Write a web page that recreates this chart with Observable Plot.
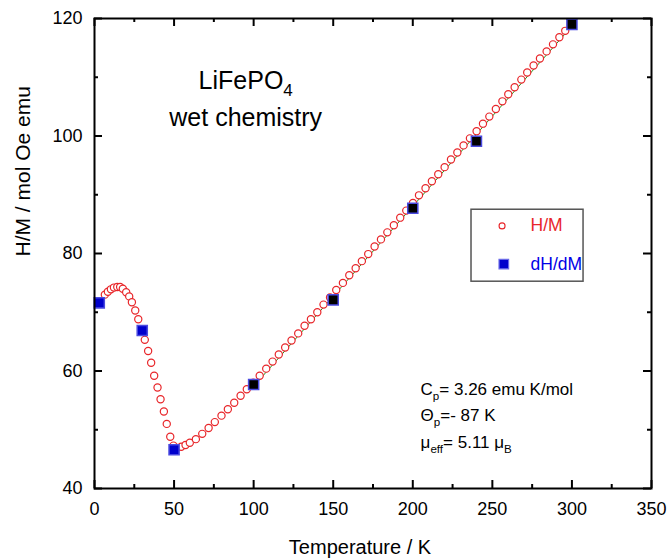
<!DOCTYPE html>
<html><head><meta charset="utf-8">
<script src="https://cdn.jsdelivr.net/npm/d3@7"></script>
<script src="https://cdn.jsdelivr.net/npm/@observablehq/plot@0.6"></script>
<style>html,body{margin:0;padding:0;background:#fff;} #chart{width:670px;height:558px;}</style>
</head><body><div id="chart"></div>
<script>
// H/M data (open red circles)
const hmT = [6.5,8.4,10.3,12.2,14.3,16.1,17.8,19.9,21.8,23.5,25.6,27.5,29.5,31.6,33.7,35.6,37.5,39.6,41.5,43.6,45.4,47.6,49.6,51.6,54.5,57.2,59.9,63.7,67.7,71.7,75.6,79.8,83.8,87.8,91.8,95.7,99.8,103.8,107.9,111.9,115.8,119.8,123.8,128,132,136,140,143.9,148,151.9,156.1,160.1,164.1,168,172,176,180,184,188.1,192.1,195.9,200.1,203.9,208,212,216,220,224,228,231.9,235.9,240.1,244.1,248.1,252.2,256.3,260,264,268.2,271.9,275.9,279.9,284.1,288.1,292.1,295.8,300];
const hmV = [73.0,73.5,73.9,74.2,74.3,74.3,74.0,73.4,72.7,71.7,70.3,68.8,67.1,65.3,63.4,61.4,59.2,57.2,55.2,53.1,51.0,48.8,47.3,46.9,47.1,47.4,47.8,48.4,49.3,50.3,51.3,52.4,53.5,54.6,55.8,56.9,58.0,59.2,60.4,61.6,62.8,64.0,65.2,66.4,67.7,68.8,70.0,71.3,72.5,73.8,75.0,76.3,77.5,78.7,79.9,81.2,82.4,83.6,84.8,86.1,87.3,88.6,89.9,91.1,92.3,93.5,94.7,96.0,97.2,98.4,99.6,100.8,102.1,103.3,104.6,105.9,107.1,108.3,109.6,110.8,112.0,113.2,114.4,115.6,116.8,117.9,119.1];
// dH/dM data (squares)
const dT = [3,30,50,100,150,200,240,300];
const dV = [71.6,66.9,46.6,57.7,72.1,87.7,99.1,119.0];
// Curie-Weiss fit line (end points)
const fitT = [100,300];
const fitV = [57.4,118.7];
// ticks
const xTicks = [0,50,100,150,200,250,300,350];
const xMinor = [25,75,125,175,225,275,325];
const yTicks = [40,60,80,100,120];
const yMinor = [50,70,90,110];
// texts
const titleLines = ["LiFePO_{4}","wet chemistry"];
const annLines = ["C_{p}= 3.26 emu K/mol","Θ_{p}=- 87 K","μ_{eff}= 5.11 μ_{B}"];
const legendLabels = ["H/M","dH/dM"];
const xLabel = "Temperature / K";
const yLabel = "H/M / mol Oe emu";

const hm = hmT.map((t,i)=>({T:t, v:hmV[i]}));
const dd = dT.map((t,i)=>({T:t, v:dV[i]}));
const fit = fitT.map((t,i)=>({T:t, v:fitV[i]}));

const W=670, H=558, mL=94, mR=19, mT=18, mB=70;
const innerW = W-mL-mR, innerH = H-mT-mB;
const font = "'Liberation Sans', Arial, Helvetica, sans-serif";
const RED = "#e8262a", BLUE = "#0000cc";

const plot = Plot.plot({
  width: W, height: H,
  marginLeft: mL, marginRight: mR, marginTop: mT, marginBottom: mB,
  style: {fontFamily: font, fontSize: "18px", background: "#fff", color: "#000"},
  x: {domain: [0,350]},
  y: {domain: [40,120]},
  marks: [
    // ticks pointing inward on all four sides
    Plot.tickX(xTicks, {x: d=>d, insetTop: innerH-8, strokeWidth: 2, stroke: "#000"}),
    Plot.tickX(xTicks, {x: d=>d, insetBottom: innerH-8, strokeWidth: 2, stroke: "#000"}),
    Plot.tickX(xMinor, {x: d=>d, insetTop: innerH-4, strokeWidth: 2, stroke: "#000"}),
    Plot.tickX(xMinor, {x: d=>d, insetBottom: innerH-4, strokeWidth: 2, stroke: "#000"}),
    Plot.tickY(yTicks, {y: d=>d, insetRight: innerW-8, strokeWidth: 2, stroke: "#000"}),
    Plot.tickY(yTicks, {y: d=>d, insetLeft: innerW-8, strokeWidth: 2, stroke: "#000"}),
    Plot.tickY(yMinor, {y: d=>d, insetRight: innerW-4, strokeWidth: 2, stroke: "#000"}),
    Plot.tickY(yMinor, {y: d=>d, insetLeft: innerW-4, strokeWidth: 2, stroke: "#000"}),
    Plot.axisX(xTicks, {tickSize: 0, tickPadding: 14, label: null, fontSize: 18}),
    Plot.axisY(yTicks, {tickSize: 0, tickPadding: 12, label: null, fontSize: 18}),
    Plot.text([xLabel], {frameAnchor: "bottom", dx: -13, dy: 59, lineAnchor: "middle", text: d=>d, fontSize: 20}),
    Plot.text([yLabel], {frameAnchor: "left", rotate: -90, dx: -71, dy: 3, lineAnchor: "middle", text: d=>d, fontSize: 21}),
    // title
    Plot.text(titleLines, {x: 95, y: (d,i)=>[109.4,103.1][i], text: d=>d, lineAnchor: "middle", fontSize: 25}),
    // data
    Plot.line(fit, {x: "T", y: "v", stroke: "#1f9a1f", strokeWidth: 1}),
    Plot.dot(hm, {x: "T", y: "v", r: 3.6, stroke: RED, fill: "#fff", strokeWidth: 1.2}),
    Plot.dot(dd, {x: "T", y: "v", symbol: "square", r: 5.7, fill: d => d.T >= 100 ? "#000" : BLUE, stroke: "#4a4ae0", strokeWidth: 1.5}),
    // legend
    Plot.rect([0], {x1: 236.9, x2: 307.3, y1: 75.2, y2: 87.45, fill: "#fff", stroke: "#555", strokeWidth: 1.5}),
    Plot.dot([0], {x: 256.1, y: 84.7, r: 3, stroke: RED, fill: "#fff", strokeWidth: 1.1}),
    Plot.dot([0], {x: 257.2, y: 78.2, symbol: "square", r: 5.4, fill: BLUE, stroke: "#6a6ae8", strokeWidth: 1.2}),
    Plot.text([legendLabels[0]], {x: 274, y: 84.7, text: d=>d, textAnchor: "start", lineAnchor: "middle", fill: RED, fontSize: 17.5}),
    Plot.text([legendLabels[1]], {x: 274, y: 78.2, text: d=>d, textAnchor: "start", lineAnchor: "middle", fill: "#0000e6", fontSize: 17.5}),
    // annotations
    Plot.text(annLines, {x: 204.9, y: (d,i)=>[56.9,52.35,47.87][i], text: d=>d, textAnchor: "start", lineAnchor: "middle", fontSize: 17}),
    // frame
    Plot.frame({stroke: "#000", strokeWidth: 2})
  ]
});
document.getElementById("chart").appendChild(plot);

// convert _{...} markup into real subscripts
plot.querySelectorAll("text").forEach(t => {
  const s = t.textContent;
  if (!s.includes("_{")) return;
  const fs = parseFloat(getComputedStyle(t).fontSize) || 18;
  const parts = s.split(/(_\{[^}]*\})/).filter(p => p);
  while (t.firstChild) t.removeChild(t.firstChild);
  const shift = fs * 0.3;
  let shifted = false;
  parts.forEach(p => {
    const ts = document.createElementNS("http://www.w3.org/2000/svg", "tspan");
    if (p.startsWith("_{")) {
      ts.textContent = p.slice(2, -1);
      ts.setAttribute("font-size", (fs * 0.68).toFixed(1));
      if (!shifted) { ts.setAttribute("dy", shift.toFixed(1)); shifted = true; }
    } else {
      ts.textContent = p;
      if (shifted) { ts.setAttribute("dy", (-shift).toFixed(1)); shifted = false; }
    }
    t.appendChild(ts);
  });
});
</script>
</body></html>
